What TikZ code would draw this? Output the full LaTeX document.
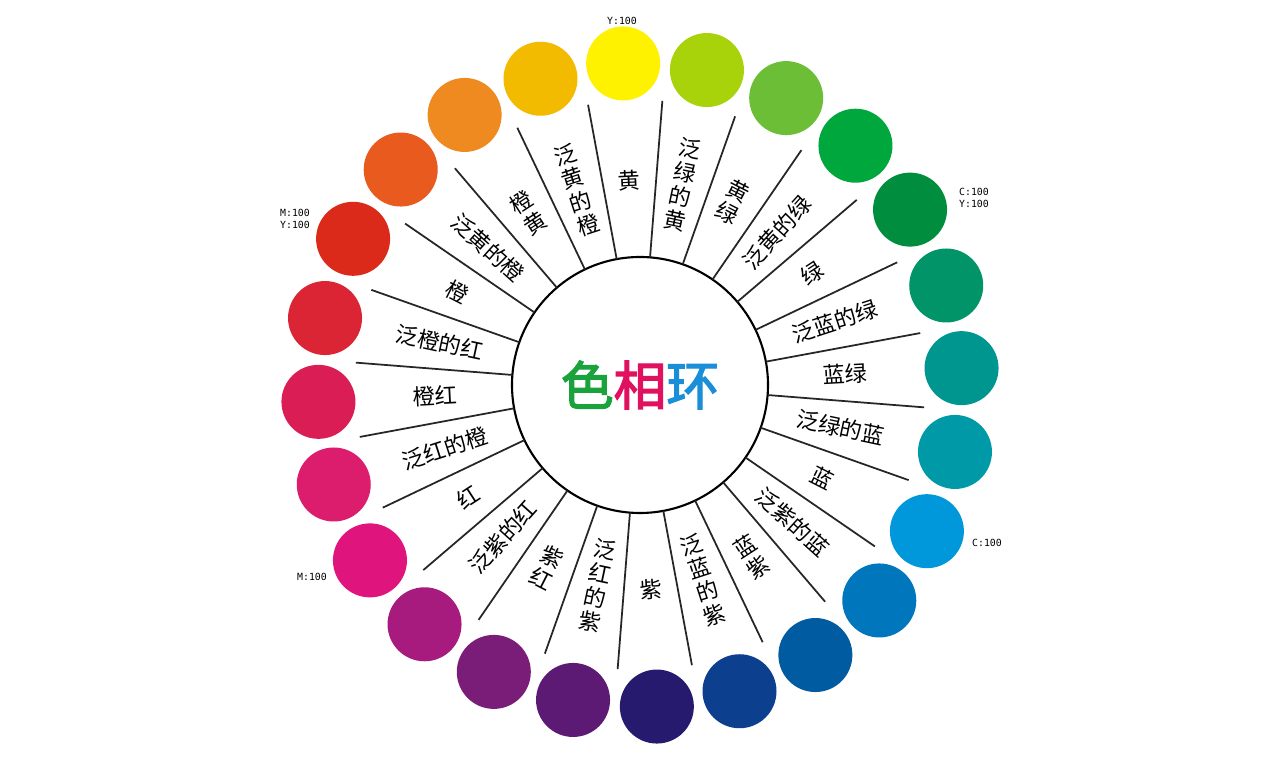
\documentclass[tikz,border=0pt]{standalone}
\usepackage{fontspec}
\usetikzlibrary{calc}
\newfontfamily\cjk{Noto Sans CJK SC}
\newfontfamily\cjkb[FakeBold=2.5]{Noto Sans CJK SC}
\setmonofont{DejaVu Sans Mono}
\definecolor{c1}{HTML}{FFF200}\definecolor{c2}{HTML}{A8D20A}\definecolor{c3}{HTML}{6BBE36}
\definecolor{c4}{HTML}{00A73C}\definecolor{c5}{HTML}{008E3E}\definecolor{c6}{HTML}{009468}
\definecolor{c7}{HTML}{009690}\definecolor{c8}{HTML}{0099A8}\definecolor{c9}{HTML}{0098DA}
\definecolor{c10}{HTML}{0077BD}\definecolor{c11}{HTML}{005BA0}\definecolor{c12}{HTML}{0C3F8D}
\definecolor{c13}{HTML}{261A6F}\definecolor{c14}{HTML}{5C1A75}\definecolor{c15}{HTML}{7A1D79}
\definecolor{c16}{HTML}{A61B7D}\definecolor{c17}{HTML}{E0147D}\definecolor{c18}{HTML}{DC1C6D}
\definecolor{c19}{HTML}{DA1E55}\definecolor{c20}{HTML}{DB2434}\definecolor{c21}{HTML}{DB2A19}
\definecolor{c22}{HTML}{E95A1F}\definecolor{c23}{HTML}{EE8A20}\definecolor{c24}{HTML}{F3BB00}
\definecolor{tg}{HTML}{1AA33C}\definecolor{tr}{HTML}{E0115F}\definecolor{tb}{HTML}{1A8FD8}
\tikzset{
  swatch/.style={circle,minimum size=0.74cm,inner sep=0pt},
  lab/.style={font=\cjk\fontsize{6.3}{7}\selectfont,inner sep=0pt,align=center},
  tag/.style={font=\ttfamily\fontsize{2.8}{3.2}\selectfont,inner sep=0pt,align=left},
  sep/.style={line width=0.5pt,black!85}
}
\begin{document}
\begin{tikzpicture}
\useasboundingbox (0,0) rectangle (12.81,7.62);
\fill[white] (0,0) rectangle (12.81,7.62);
\coordinate (O) at (6.40,3.77);
\node[circle,draw,line width=0.6pt,minimum size=2.56cm,inner sep=0pt] (hub) at (O) {};
\node[font=\cjkb\fontsize{15}{16}\selectfont] (title) at (O) {\textcolor{tg}{色}\textcolor{tr}{相}\textcolor{tb}{环}};
\foreach \k in {1,...,24}{
  \pgfmathsetmacro{\a}{93-15*(\k-1)}
  \node[swatch,fill=c\k] (s\k) at ($(O)+(\a:3.22)$) {};
  \pgfmathsetmacro{\b}{\a-7.5}
  \coordinate (i\k) at ($(O)+(\b:1.28)$);
  \coordinate (o\k) at ($(O)+(\b:2.85)$);
  \draw[sep] (i\k) -- (o\k);
}
\foreach \k/\t/\m in {1/黄/0,2/泛\\绿\\的\\黄/0,3/黄\\绿/0,4/泛黄的绿/2,5/绿/2,6/泛蓝的绿/2,7/蓝绿/2,8/泛绿的蓝/2,9/蓝/2,10/泛紫的蓝/2,
  11/蓝\\紫/1,12/泛\\蓝\\的\\紫/1,13/紫/1,14/泛\\红\\的\\紫/1,15/紫\\红/1,
  16/泛紫的红/3,17/红/3,18/泛红的橙/3,19/橙红/3,20/泛橙的红/3,21/橙/3,22/泛黄的橙/3,
  23/橙\\黄/0,24/泛\\黄\\的\\橙/0}{
  \pgfmathsetmacro{\a}{93-15*(\k-1)}
  \pgfmathsetmacro{\r}{\m==0 ? \a-90 : (\m==1 ? \a+90 : (\m==2 ? \a : \a+180))}
  \node[lab,rotate=\r] (l\k) at ($(O)+(\a:2.05)$) {\t};
}
\node[tag] (t1) at (6.22,7.41) {Y:100};
\node[tag] (t5) at (9.74,5.64) {C:100\\Y:100};
\node[tag] (t21) at (2.95,5.43) {M:100\\Y:100};
\node[tag] (t9) at (9.87,2.19) {C:100};
\node[tag] (t17) at (3.12,1.85) {M:100};
\end{tikzpicture}
\end{document}
